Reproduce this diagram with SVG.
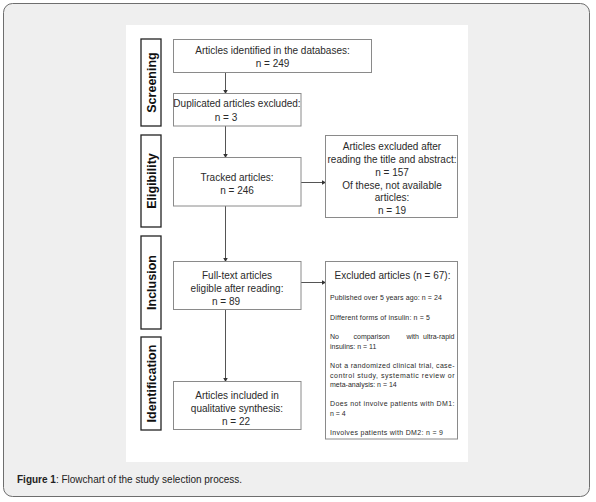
<svg xmlns="http://www.w3.org/2000/svg" width="596" height="502" viewBox="0 0 596 502">
<defs>
<marker id="ah" markerUnits="userSpaceOnUse" markerWidth="5" markerHeight="5" refX="4" refY="2.5" orient="auto">
<path d="M0,0 L4.5,2.5 L0,5 z" fill="#333"/>
</marker>
<style>
.frame{fill:#efefef;stroke:#6e6e6e;stroke-width:1}
.panel{fill:#fff}
.box{fill:#fff;stroke:#8a8a8a;stroke-width:1}
.lab{fill:#fff;stroke:#222;stroke-width:1.3}
.t{font-family:"Liberation Sans",Arial,sans-serif;font-size:10px;fill:#2a2a2a;text-anchor:middle}
.s{font-family:"Liberation Sans",Arial,sans-serif;font-size:7px;fill:#2a2a2a}
.lt{font-family:"Liberation Sans",Arial,sans-serif;font-size:12.5px;font-weight:bold;fill:#111;text-anchor:middle}
.cap{font-family:"Liberation Sans",Arial,sans-serif;font-size:10px;fill:#222}
.con{stroke:#555;stroke-width:1;fill:none;marker-end:url(#ah)}
</style>
</defs>
<rect class="frame" x="3.5" y="3.5" width="586" height="493" rx="9"/>
<rect class="panel" x="126" y="25" width="342" height="437"/>

<g id="lab-screening"><rect class="lab" x="141" y="39" width="20" height="87"/><text class="lt" transform="translate(155.5,82.5) rotate(-90)">Screening</text></g>
<g id="lab-eligibility"><rect class="lab" x="141" y="135" width="20" height="92"/><text class="lt" transform="translate(155.5,181) rotate(-90)">Eligibility</text></g>
<g id="lab-inclusion"><rect class="lab" x="141" y="236" width="20" height="93"/><text class="lt" transform="translate(155.5,282.5) rotate(-90)">Inclusion</text></g>
<g id="lab-identification"><rect class="lab" x="141" y="337" width="20" height="93"/><text class="lt" transform="translate(155.5,383.5) rotate(-90)">Identification</text></g>

<g id="connectors">
<line class="con" x1="225.5" y1="72.5" x2="225.5" y2="93.5"/>
<line class="con" x1="225.5" y1="126" x2="225.5" y2="157.5"/>
<line class="con" x1="301" y1="182.5" x2="325.5" y2="182.5"/>
<line class="con" x1="225.5" y1="206" x2="225.5" y2="261.5"/>
<line class="con" x1="301" y1="282.5" x2="325.5" y2="282.5"/>
<line class="con" x1="225.5" y1="309.5" x2="225.5" y2="381.5"/>
</g>

<g id="n1"><rect class="box" x="173.5" y="39.5" width="198" height="33"/>
<text class="t" x="272.5" y="53.5">Articles identified in the databases:</text>
<text class="t" x="272.5" y="66.5">n = 249</text></g>

<g id="n2"><rect class="box" x="173.5" y="93.5" width="127.5" height="32.5"/>
<text class="t" x="237" y="107">Duplicated articles excluded:</text>
<text class="t" x="226" y="120.5">n  = 3</text></g>

<g id="n3"><rect class="box" x="173.5" y="157.5" width="127.5" height="48.5"/>
<text class="t" x="237" y="180.7">Tracked articles:</text>
<text class="t" x="237" y="194">n  = 246</text></g>

<g id="n4"><rect class="box" x="325.5" y="135.5" width="132" height="82"/>
<text class="t" x="392" y="150.2">Articles excluded after</text>
<text class="t" x="392" y="163">reading the title and abstract:</text>
<text class="t" x="392" y="175.8">n = 157</text>
<text class="t" x="392" y="188.5">Of these, not available</text>
<text class="t" x="392" y="201.2">articles:</text>
<text class="t" x="392" y="214">n = 19</text></g>

<g id="n5"><rect class="box" x="173.5" y="261.5" width="127.5" height="48"/>
<text class="t" x="237" y="278.5">Full-text articles</text>
<text class="t" x="237" y="291.8">eligible after reading:</text>
<text class="t" x="226" y="305">n  = 89</text></g>

<g id="n6"><rect class="box" x="325.5" y="261.5" width="132" height="177.5"/>
<text class="t" x="392.5" y="279">Excluded articles (n = 67):</text>
<text class="s" x="330" y="300" textLength="112">Published over 5 years ago: n = 24</text>
<text class="s" x="330" y="319.5" textLength="100">Different forms of insulin: n = 5</text>
<text class="s" x="330" y="339">No</text>
<text class="s" x="353.5" y="339">comparison</text>
<text class="s" x="406.5" y="339">with</text>
<text class="s" x="454.5" y="339" text-anchor="end">ultra-rapid</text>
<text class="s" x="330" y="348.5">insulins: n = 11</text>
<text class="s" x="330" y="368" textLength="124.5">Not a randomized clinical trial, case-</text>
<text class="s" x="330" y="377.5" textLength="124.5">control study, systematic review or</text>
<text class="s" x="330" y="387">meta-analysis: n = 14</text>
<text class="s" x="330" y="406" textLength="124.5">Does not involve patients with DM1:</text>
<text class="s" x="330" y="415.5">n = 4</text>
<text class="s" x="330" y="435" textLength="113">Involves patients with DM2: n = 9</text></g>

<g id="n7"><rect class="box" x="173.5" y="381.5" width="127.5" height="48"/>
<text class="t" x="237" y="398.5">Articles included in</text>
<text class="t" x="237" y="411.8">qualitative synthesis:</text>
<text class="t" x="236" y="425">n  = 22</text></g>

<text class="cap" x="17" y="483"><tspan font-weight="bold">Figure 1</tspan>: Flowchart of the study selection process.</text>
</svg>
